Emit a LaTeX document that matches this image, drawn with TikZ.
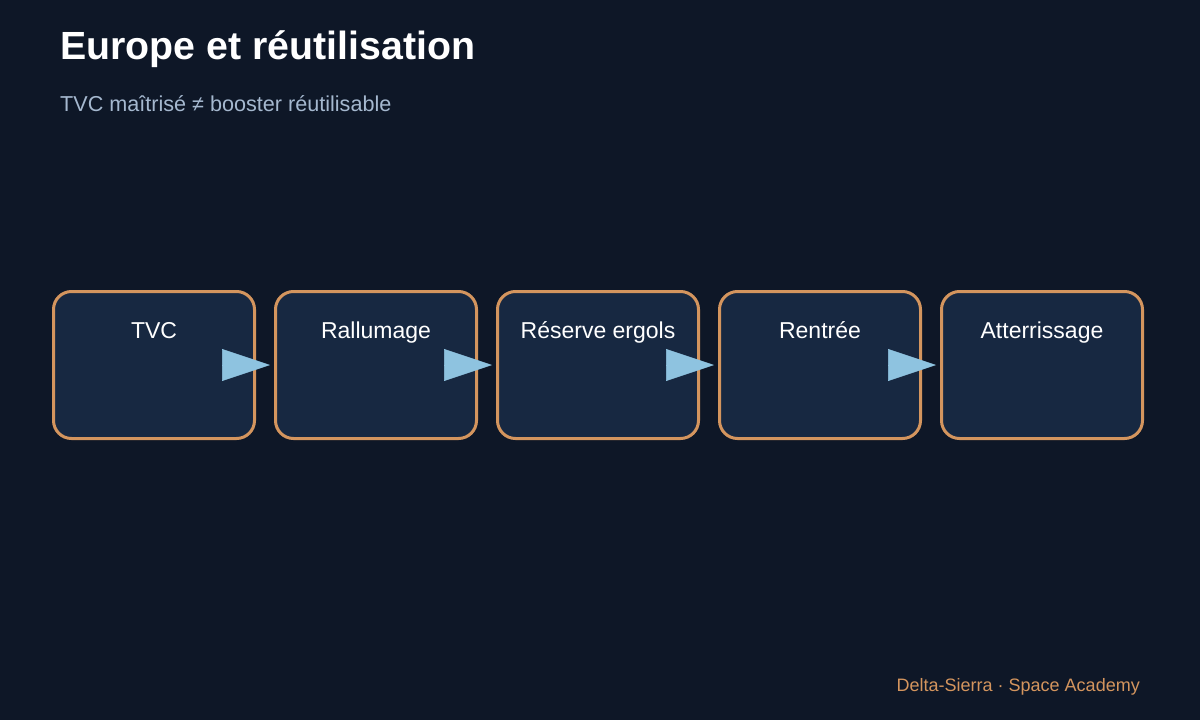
\documentclass[tikz,border=0pt]{standalone}
\usepackage{fontspec}
\setmainfont{Liberation Sans}
\usetikzlibrary{arrows.meta}
\definecolor{bgc}{HTML}{0E1727}
\definecolor{boxfill}{HTML}{172841}
\definecolor{boxedge}{HTML}{D4955E}
\definecolor{arrc}{HTML}{8EC3E0}
\definecolor{subc}{HTML}{A5B8CF}
\tikzset{
  stepbox/.style={draw=boxedge, fill=boxfill, line width=3pt, rounded corners=18pt,
    minimum width=201pt, minimum height=147pt, inner sep=0pt, outer sep=0pt},
  boxlabel/.style={anchor=base, text=white, font=\fontsize{23}{27}\selectfont, yshift=-47pt, inner sep=0pt},
  conn/.style={draw=arrc, line width=0.5pt, -{Triangle[length=48pt,width=32pt,fill=arrc]}, shorten >=5.5pt},
}
\begin{document}
\begin{tikzpicture}[x=1pt,y=-1pt]
\fill[bgc] (0,0) rectangle (1200,720);
\useasboundingbox (0,0) rectangle (1200,720);
\node[anchor=base west, inner sep=0pt, text=white, font=\fontsize{39.3}{44}\selectfont\bfseries] (title) at (60,59) {Europe et réutilisation};
\node[anchor=base west, inner sep=0pt, text=subc, font=\fontsize{21.6}{25}\selectfont] (sub) at (60,111) {TVC maîtrisé ≠ booster réutilisable};
\foreach \i/\t in {1/TVC,2/Rallumage,3/Réserve ergols,4/Rentrée,5/Atterrissage}{
  \node[stepbox, label={[boxlabel, label distance=0pt]north:\t}] (b\i) at ({154+222*(\i-1)},365) {};
}
\foreach \i/\j in {1/2,2/3,3/4,4/5}{
  \draw[conn] (b\i.east) -- (b\j.west);
}
\node[anchor=base east, inner sep=0pt, text=boxedge, font=\fontsize{18}{22}\selectfont] (foot) at (1140,691) {Delta-Sierra · Space Academy};
\end{tikzpicture}
\end{document}
